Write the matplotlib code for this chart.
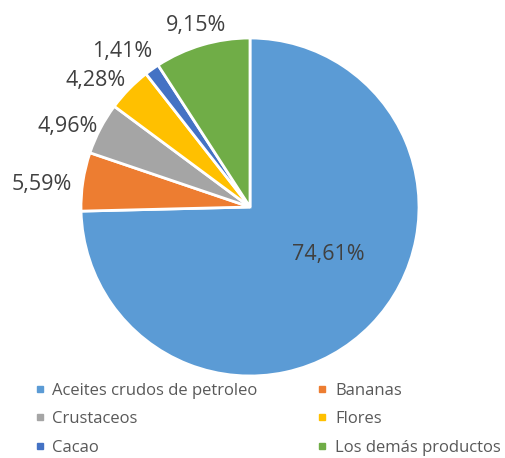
import matplotlib
matplotlib.use("Agg")
import matplotlib.pyplot as plt
from matplotlib.lines import Line2D
import numpy as np

categories = ["Aceites crudos de petroleo", "Bananas", "Crustaceos", "Flores", "Cacao", "Los demás productos"]
values = [74.61, 5.59, 4.96, 4.28, 1.41, 9.15]
colors = ["#5B9BD5", "#ED7D31", "#A5A5A5", "#FFC000", "#4472C4", "#70AD47"]
label_dist = [0.54, 1.24, 1.18, 1.18, 1.19, 1.12]
label_angle_shift = [13, 2.4, 3.7, 5, 4, 0]
legend_order = [0, 2, 4, 1, 3, 5]

plt.rcParams['font.family'] = ['Open Sans', 'DejaVu Sans']

W, H = 505, 458
fig = plt.figure(figsize=(W/100, H/100), dpi=100)
ax = fig.add_axes([0, 0, 1, 1])
cx, cy, R = 250, 207, 169
wedges, _ = ax.pie(values, colors=colors, startangle=90, counterclock=False,
                   wedgeprops=dict(edgecolor="white", linewidth=2), radius=1)
ax.set_aspect('auto')
ax.set_xlim(-cx/R, (W-cx)/R)
ax.set_ylim(-(H-cy)/R, cy/R)
ax.axis('off')

for w, v, d, s in zip(wedges, values, label_dist, label_angle_shift):
    a = np.deg2rad((w.theta1 + w.theta2)/2 + s)
    ax.text(d*np.cos(a), d*np.sin(a), f"{v:.2f}%".replace('.', ','),
            ha='center', va='center', fontsize=15.5, color="#404040")

handles = [Line2D([0], [0], marker='s', linestyle='none', markersize=5,
                  markerfacecolor=c, markeredgecolor=c) for c in colors]
fig.legend([handles[i] for i in legend_order], [categories[i] for i in legend_order],
           ncol=2, loc='upper left',
           bbox_to_anchor=(28/W, 1-376/H), frameon=False, fontsize=12,
           labelcolor="#595959", handlelength=0.6, handletextpad=0.45,
           columnspacing=3.6, labelspacing=0.75, borderaxespad=0)

fig.savefig("out.png", dpi=100)
